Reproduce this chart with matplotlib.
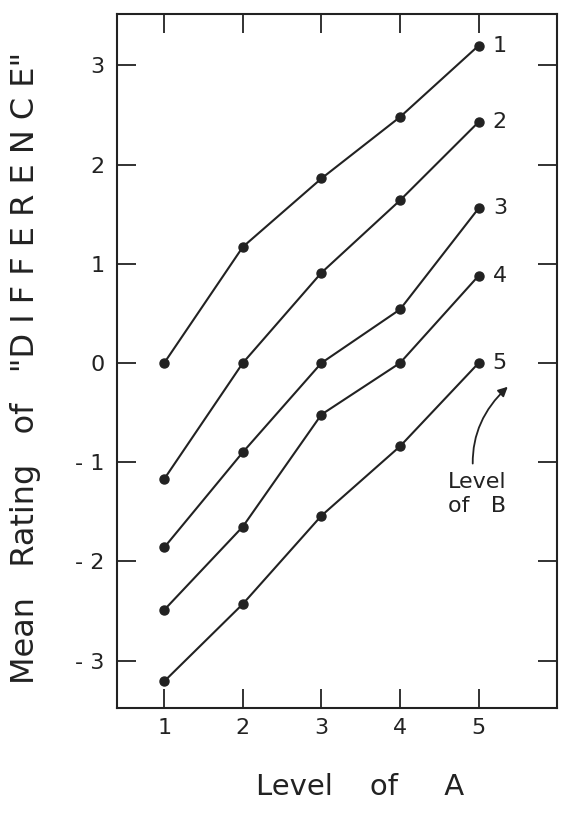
import matplotlib
matplotlib.use("Agg")
import matplotlib.pyplot as plt

# Level of A on the x axis, one curve per level of B
level_a = [1, 2, 3, 4, 5]
b_levels = ["1", "2", "3", "4", "5"]
b1 = [0.0, 1.17, 1.86, 2.48, 3.20]
b2 = [-1.17, 0.0, 0.91, 1.64, 2.43]
b3 = [-1.86, -0.90, 0.0, 0.54, 1.56]
b4 = [-2.49, -1.65, -0.52, 0.0, 0.88]
b5 = [-3.21, -2.43, -1.54, -0.84, 0.0]
series = [b1, b2, b3, b4, b5]

y_ticks = [-3, -2, -1, 0, 1, 2, 3]
y_tick_labels = ["- 3", "- 2", "- 1", "0", "1", "2", "3"]

ink = "#222222"

fig = plt.figure(figsize=(5.71, 8.13), dpi=100)
ax = fig.add_axes([0.205, 0.129, 0.771, 0.854])

for vals, name in zip(series, b_levels):
    ax.plot(level_a, vals, color=ink, lw=1.5, marker="o", markersize=6.5)
    ax.text(level_a[-1] + 0.27, vals[-1], name, fontsize=16, color=ink,
            ha="center", va="center")

ax.annotate("Level\nof   B", xy=(5.37, -0.24), xytext=(4.98, -1.32),
            fontsize=16, color=ink, ha="center", va="center",
            multialignment="center", linespacing=1.25,
            arrowprops=dict(arrowstyle="-|>", color=ink, lw=1.3,
                            mutation_scale=14, shrinkA=4, shrinkB=0,
                            connectionstyle="arc3,rad=-0.3"))

ax.set_xlim(0.4, 6.0)
ax.set_ylim(-3.48, 3.52)
ax.set_xticks(level_a)
ax.set_yticks(y_ticks)
ax.set_yticklabels(y_tick_labels)

ax.tick_params(direction="in", length=14, width=1.3, colors=ink,
               labelsize=16, top=True, right=True)
ax.tick_params(axis="y", pad=9)
ax.tick_params(axis="x", pad=7)
for s in ax.spines.values():
    s.set_linewidth(1.5)
    s.set_color(ink)

fig.text(0.044, 0.547, 'Mean   Rating   of   "D I F F E R E N C E"',
         rotation=90, fontsize=23, color=ink, ha="center", va="center")
fig.text(0.63, 0.032, "Level    of     A", fontsize=21, color=ink,
         ha="center", va="center")

fig.savefig("out.png", dpi=100)
